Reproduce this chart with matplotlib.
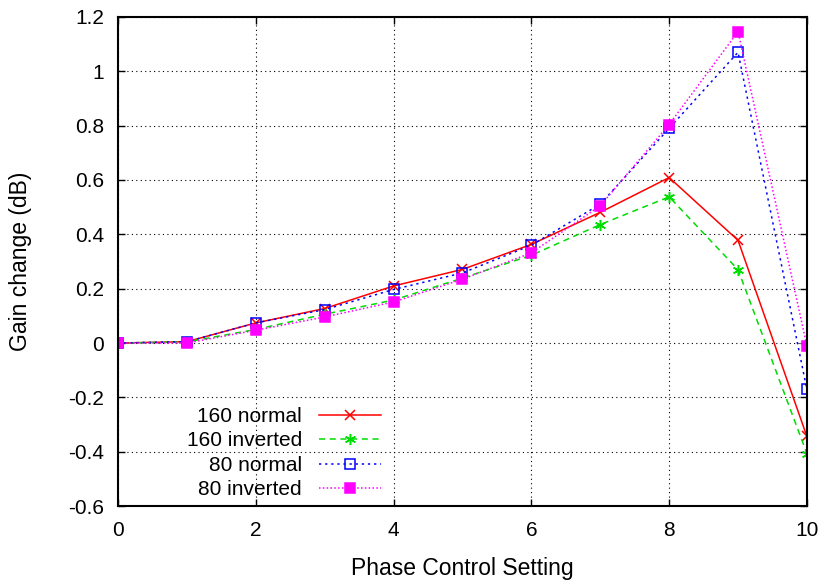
import matplotlib
matplotlib.use("Agg")
import matplotlib.pyplot as plt
from matplotlib.ticker import FuncFormatter

plt.rcParams['font.family'] = ['Liberation Sans', 'DejaVu Sans']
plt.rcParams['axes.unicode_minus'] = False

# phase control settings
phase = [0, 1, 2, 3, 4, 5, 6, 7, 8, 9, 10]

# gain change (dB)
n160_normal = [0, 0.005, 0.074, 0.127, 0.210, 0.271, 0.363, 0.481, 0.609, 0.378, -0.344]
n160_inverted = [0, 0.004, 0.050, 0.106, 0.158, 0.239, 0.323, 0.436, 0.538, 0.270, -0.407]
n80_normal = [0, 0.005, 0.074, 0.123, 0.197, 0.258, 0.360, 0.511, 0.790, 1.070, -0.171]
n80_inverted = [0, 0.000, 0.047, 0.096, 0.151, 0.235, 0.332, 0.505, 0.804, 1.146, -0.011]

labels = ['160 normal', '160 inverted', '80 normal', '80 inverted']

fig = plt.figure(figsize=(8.26, 5.81), dpi=100)
ax = fig.add_axes([0.1429, 0.129, 0.834, 0.8418])

ax.plot(phase, n160_normal, color='#ff0000', lw=1.1, ls='-', marker='x', ms=7, mew=1.1, label=labels[0])
ax.plot(phase, n160_inverted, color='#00dd00', lw=1.1, ls=(0, (4, 3)), marker=(6, 2, 0), ms=8, mew=1.1, label=labels[1])
ax.plot(phase, n80_normal, color='#0000ff', lw=1.1, ls=(0, (1.5, 2.5)), marker='s', ms=6.5, mfc='none', mew=1.1, label=labels[2])
ax.plot(phase, n80_inverted, color='#ff00ff', lw=1.1, ls=(0, (1, 1.5)), marker='s', ms=6.5, mew=1.1, label=labels[3])

ax.set_xlim(0, 10)
ax.set_ylim(-0.6, 1.2)
ax.set_xticks([0, 2, 4, 6, 8, 10])
ax.set_yticks([-0.6, -0.4, -0.2, 0, 0.2, 0.4, 0.6, 0.8, 1, 1.2])
ax.yaxis.set_major_formatter(FuncFormatter(lambda v, p: '%g' % round(v, 2)))
ax.tick_params(direction='in', top=True, right=True, length=5, width=1, labelsize=15)
ax.tick_params(axis='x', pad=11)
ax.tick_params(axis='y', pad=10)
ax.grid(True, color='black', ls=(0, (1, 3)), lw=0.8)
for s in ax.spines.values():
    s.set_linewidth(1.5)

ax.set_xlabel('Phase Control Setting', fontsize=16.5)
ax.set_ylabel('Gain change (dB)', fontsize=16.5)
ax.xaxis.set_label_coords(0.5, -0.104)
ax.yaxis.set_label_coords(-0.125, 0.5)

leg = ax.legend(loc='upper right', bbox_to_anchor=(381 / 826, 1 - 407 / 581),
                bbox_transform=fig.transFigure, frameon=False, markerfirst=False,
                fontsize=15, handlelength=3.0, handletextpad=0.8, labelspacing=0.26,
                borderpad=0, borderaxespad=0)

fig.savefig('out.png', dpi=100)
